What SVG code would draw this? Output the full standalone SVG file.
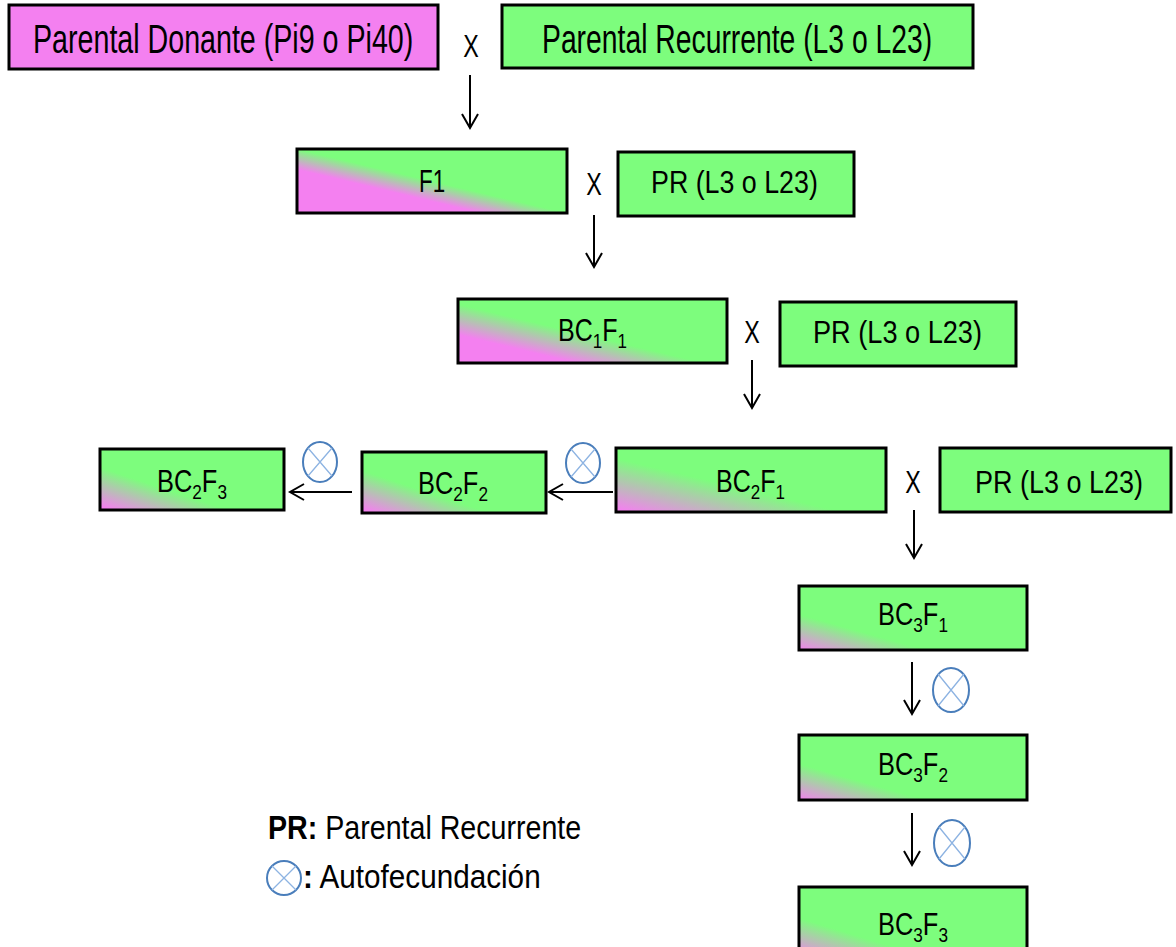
<svg xmlns="http://www.w3.org/2000/svg" width="1176" height="947" viewBox="0 0 1176 947">
<style>
.box{stroke:#000;stroke-width:3}
.t{font-family:"Liberation Sans",Arial,sans-serif;fill:#000}
.x{font-family:"Liberation Sans",Arial,sans-serif;font-size:31px;fill:#000;text-anchor:middle}
.arr{stroke:#000;stroke-width:2;fill:none;marker-end:url(#ah)}
.self ellipse{fill:none;stroke:#4A7EBB;stroke-width:2}
.self path{stroke:#8DB3E2;stroke-width:1.3;fill:none}
</style>
<defs>
<marker id="ah" markerUnits="userSpaceOnUse" markerWidth="20" markerHeight="20" viewBox="-16 -10 20 20" refX="0" refY="0" orient="auto">
<path d="M-14,-8 L0,0 L-14,8" fill="none" stroke="#000" stroke-width="2"/>
</marker>
<linearGradient id="gF1" x1="0" y1="1" x2="1" y2="0"><stop offset="0.34" stop-color="#F480F0"/><stop offset="0.5" stop-color="#7DFD7D"/></linearGradient>
<linearGradient id="gBC1" x1="0" y1="1" x2="1" y2="0"><stop offset="0.22" stop-color="#F480F0"/><stop offset="0.46" stop-color="#7DFD7D"/></linearGradient>
<linearGradient id="gBC2" x1="0" y1="1" x2="1" y2="0"><stop offset="0.02" stop-color="#F480F0"/><stop offset="0.42" stop-color="#7DFD7D"/></linearGradient>
<linearGradient id="gBC2s" x1="0" y1="1" x2="1" y2="0"><stop offset="0.03" stop-color="#F480F0"/><stop offset="0.35" stop-color="#7DFD7D"/></linearGradient>
<linearGradient id="gBC3" x1="0" y1="1" x2="1" y2="0"><stop offset="0" stop-color="#F480F0"/><stop offset="0.28" stop-color="#7DFD7D"/></linearGradient>
</defs>

<g id="pd"><rect class="box" x="9" y="5" width="429" height="64" fill="#F480F0"/><text class="t" transform="translate(33,53) scale(0.716,1)" font-size="40">Parental Donante (Pi9 o Pi40)</text></g>
<g id="pr0"><rect class="box" x="502" y="5" width="471" height="63" fill="#7DFD7D"/><text class="t" transform="translate(542,53) scale(0.708,1)" font-size="40">Parental Recurrente (L3 o L23)</text></g>
<g id="f1"><rect class="box" x="297" y="149" width="270" height="64" fill="url(#gF1)"/><text class="t" transform="translate(419,192) scale(0.7,1)" font-size="32">F1</text></g>
<g id="pr1"><rect class="box" x="618" y="152" width="236" height="64" fill="#7DFD7D"/><text class="t" transform="translate(651,193) scale(0.865,1)" font-size="31">PR (L3 o L23)</text></g>
<g id="bc1f1"><rect class="box" x="458" y="299" width="269" height="64" fill="url(#gBC1)"/><text class="t" transform="translate(558,341) scale(0.808,1)" font-size="31">BC<tspan font-size="21" dy="7">1</tspan><tspan dy="-7">F</tspan><tspan font-size="21" dy="7">1</tspan></text></g>
<g id="pr2"><rect class="box" x="780" y="302" width="236" height="64" fill="#7DFD7D"/><text class="t" transform="translate(813,343) scale(0.876,1)" font-size="31">PR (L3 o L23)</text></g>
<g id="bc2f1"><rect class="box" x="616" y="448" width="270" height="64" fill="url(#gBC2)"/><text class="t" transform="translate(716,492) scale(0.808,1)" font-size="31">BC<tspan font-size="21" dy="7">2</tspan><tspan dy="-7">F</tspan><tspan font-size="21" dy="7">1</tspan></text></g>
<g id="pr3"><rect class="box" x="940" y="448" width="231" height="64" fill="#7DFD7D"/><text class="t" transform="translate(975,493) scale(0.87,1)" font-size="31">PR (L3 o L23)</text></g>
<g id="bc2f2"><rect class="box" x="362" y="452" width="184" height="61" fill="url(#gBC2s)"/><text class="t" transform="translate(418,494) scale(0.82,1)" font-size="31">BC<tspan font-size="21" dy="7">2</tspan><tspan dy="-7">F</tspan><tspan font-size="21" dy="7">2</tspan></text></g>
<g id="bc2f3"><rect class="box" x="100" y="449" width="184" height="61" fill="url(#gBC2s)"/><text class="t" transform="translate(157,492) scale(0.82,1)" font-size="31">BC<tspan font-size="21" dy="7">2</tspan><tspan dy="-7">F</tspan><tspan font-size="21" dy="7">3</tspan></text></g>
<g id="bc3f1"><rect class="box" x="799" y="586" width="228" height="64" fill="url(#gBC3)"/><text class="t" transform="translate(878,625) scale(0.82,1)" font-size="31">BC<tspan font-size="21" dy="7">3</tspan><tspan dy="-7">F</tspan><tspan font-size="21" dy="7">1</tspan></text></g>
<g id="bc3f2"><rect class="box" x="799" y="735" width="228" height="65" fill="url(#gBC3)"/><text class="t" transform="translate(878,775) scale(0.82,1)" font-size="31">BC<tspan font-size="21" dy="7">3</tspan><tspan dy="-7">F</tspan><tspan font-size="21" dy="7">2</tspan></text></g>
<g id="bc3f3"><rect class="box" x="799" y="887" width="228" height="70" fill="url(#gBC3)"/><text class="t" transform="translate(878,935) scale(0.82,1)" font-size="31">BC<tspan font-size="21" dy="7">3</tspan><tspan dy="-7">F</tspan><tspan font-size="21" dy="7">3</tspan></text></g>

<g id="crosses">
<text class="x" transform="translate(471,57) scale(0.75,1)">X</text>
<text class="x" transform="translate(594,195) scale(0.75,1)">X</text>
<text class="x" transform="translate(752,343) scale(0.75,1)">X</text>
<text class="x" transform="translate(913,493) scale(0.75,1)">X</text>
</g>

<g id="connectors">
<line class="arr" x1="470" y1="75" x2="470" y2="128"/>
<line class="arr" x1="594" y1="215" x2="594" y2="267"/>
<line class="arr" x1="752" y1="360" x2="752" y2="408"/>
<line class="arr" x1="914" y1="510" x2="914" y2="558"/>
<line class="arr" x1="613" y1="492" x2="549" y2="492"/>
<line class="arr" x1="352" y1="492" x2="290" y2="492"/>
<line class="arr" x1="912" y1="662" x2="912" y2="714"/>
<line class="arr" x1="912" y1="813" x2="912" y2="865"/>
</g>

<g id="selfing" class="self">
<g><ellipse cx="320" cy="462" rx="17" ry="20"/><path d="M308,448 L332,476 M332,448 L308,476"/></g>
<g><ellipse cx="583" cy="463" rx="17" ry="20"/><path d="M571,449 L595,477 M595,449 L571,477"/></g>
<g><ellipse cx="951" cy="690" rx="18" ry="22"/><path d="M938,674 L964,706 M964,674 L938,706"/></g>
<g><ellipse cx="952" cy="843" rx="18" ry="23"/><path d="M939,827 L965,859 M965,827 L939,859"/></g>
</g>

<g id="legend">
<text class="t" transform="translate(268,839) scale(0.867,1)" font-size="33"><tspan font-weight="bold">PR:</tspan> Parental Recurrente</text>
<g class="self"><ellipse cx="284" cy="878" rx="17" ry="17"/><path d="M272,866 L296,890 M296,866 L272,890"/></g>
<text class="t" transform="translate(303,888) scale(0.9,1)" font-size="33"><tspan font-weight="bold">:</tspan> Autofecundación</text>
</g>
</svg>
